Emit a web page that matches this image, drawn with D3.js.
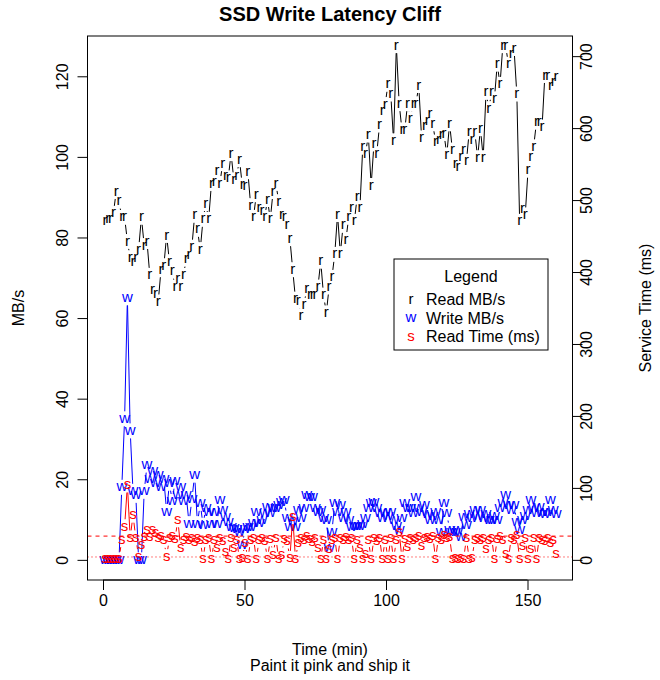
<!DOCTYPE html>
<html>
<head>
<meta charset="utf-8">
<script src="https://cdn.jsdelivr.net/npm/d3@7"></script>
<style>
  body { margin: 0; background: #fff; }
  text { font-family: "Liberation Sans", Arial, Helvetica, sans-serif; }
</style>
</head>
<body>
<script>
// sampling: one reading roughly every minute
const startMin = 0.7;
const stepMin = 0.99;

// Read MB/s (left axis)
const readMBs = [
  84, 84.5, 84.7, 86, 91.4, 89, 85, 85, 79, 75,
  74, 75, 77, 85, 78, 79, 70.6, 67, 66, 64,
  72, 73, 80.5, 74, 71.6, 67.7, 69.7, 67.7, 70.6, 74.6,
  75.6, 77.6, 85.5, 82, 77, 84.5, 88.4, 84.5, 93.4, 93.9,
  96.5, 93.4, 98.3, 95.3, 94.8, 100.8, 94.3, 95.3, 99.3, 93,
  92.9, 96.3, 87.9, 85, 90.6, 87.4, 86.5, 85, 89.4, 84.5,
  91.4, 93.4, 88.9, 85.7, 85, 83, 79.7, 72, 64.7, 64.2,
  60.5, 63.2, 67.2, 65.7, 65.7, 65.7, 67.7, 74.1, 65.7, 61.3,
  67.7, 70.1, 75.8, 85.7, 76, 83, 79.5, 85, 87.4, 84,
  90, 87.4, 102.4, 100.8, 105.4, 92.9, 103.2, 100.8, 107.9, 111.5,
  113, 118, 115.6, 104, 127.6, 113.2, 106.7, 106.7, 113.2, 109.5,
  113.2, 113.2, 117.7, 104.7, 107.8, 109, 110.7, 108.2, 103.7, 104.2,
  105.4, 105.8, 100.5, 108.2, 101.7, 98.3, 97.5, 100, 101.7, 98.9,
  106.2, 104.2, 106.2, 99.8, 107, 99.8, 116, 112, 116, 114.4,
  123, 118, 127.6, 127.6, 123, 125.5, 126.9, 115.6, 84, 87.2,
  85.6, 96.7, 100, 102.5, 108.6, 108.6, 107.4, 120.2, 120.2, 117.7,
  118.5, 119.8
];

// Write MB/s (left axis)
const writeMBs = [
  0, 0, 0, 0, 0, 0, 18, 35, 65, 32,
  17, 16, 0, 0, 17, 23.5, 20, 22, 19, 21,
  18, 20, 12, 19, 14.5, 19.5, 16, 18, 14.5, 16,
  9, 15, 21, 9, 14, 8.6, 13, 12, 9, 12,
  9, 14.8, 12.3, 10.7, 9.4, 8.2, 7.9, 7.7, 6.9, 3.7,
  7.7, 8.2, 8.2, 9.1, 11.9, 9.1, 9.9, 11.6, 13.2, 11.6,
  13, 12.8, 13.6, 14.3, 14.8, 10.4, 8.2, 9.7, 8.2, 12.3,
  10.4, 12.8, 16, 15.6, 15.6, 12.8, 11.9, 12.3, 10.4, 9.9,
  3, 7, 14, 11.9, 13.6, 10.4, 11.9, 9.9, 8.2, 8.5,
  8.5, 8.5, 9, 10.4, 12.8, 14, 14.4, 12.8, 11.6, 10.4,
  11.9, 11, 11.9, 9.9, 8.5, 7.4, 10.4, 14, 13, 12.8,
  11.6, 15.6, 12.8, 12, 13.6, 11.3, 9.9, 11, 11.9, 10,
  7, 14, 11.6, 7.4, 7, 7, 7.5, 5.8, 10.7, 8.6,
  11.3, 10.5, 12.3, 11, 12.3, 10.5, 11.3, 10, 9.9, 11,
  9.9, 12.8, 14, 16, 13.6, 12.5, 13.6, 9.4, 7.4, 9.9,
  11, 12.3, 14.8, 13, 11.6, 13.2, 12, 11.3, 12, 14.8,
  12.3, 11.3
];

// Read service time in ms (right axis)
const readTimeMs = [
  1, 1, 1, 1, 1, 1, 28, 46, 104, 30.5,
  62, 30.5, 4.6, 21, 32, 41.7, 32, 41.7, 37.5, 30,
  33, 27, 4.6, 30, 33, 29, 55.6, 16.7, 28, 32,
  27, 30, 25, 31, 27, 1, 28, 31, 1, 27,
  16.7, 30, 26, 11.6, 1, 31, 16, 28, 1, 2,
  24, 1, 28, 31, 1, 27, 30, 26, 1, 29,
  7, 31, 1, 7, 29, 26, 2, 60, 1, 24,
  31, 27, 33, 29, 25, 30, 16.7, 1, 28, 1,
  15, 27, 31, 1, 30, 27, 32, 28, 30, 1,
  27, 16.7, 1, 8, 28, 1, 30, 26, 31, 1,
  28, 1, 30, 1, 27, 39, 1, 29, 18.5, 31,
  27, 30, 33, 20, 30, 32, 29, 33, 1, 31,
  28, 34, 30, 32, 1, 2, 1, 2, 1, 30,
  1, 2, 28, 31, 27, 30, 15, 28, 31, 1,
  29, 33, 27, 8, 1, 31, 28, 34, 1, 20,
  30, 1, 15, 30, 1, 31, 28, 26, 30, 24,
  27, 8
];

const times = readMBs.map((d, i) => startMin + i * stepMin);

const leftTicks = [0, 20, 40, 60, 80, 100, 120];
const rightTicks = [0, 100, 200, 300, 400, 500, 600, 700];
const timeTicks = [0, 50, 100, 150];

const refDashedMs = 33;
const refDottedMs = 4;

const legendLabels = ["Read MB/s", "Write MB/s", "Read Time (ms)"];
const legendChars = ["r", "w", "s"];
const legendColors = ["black", "blue", "red"];

// layout
const box = { l: 87.5, r: 572.5, t: 36, b: 580 };
const gap = 7.5;      // type="b" line gap around each point
const pchSize = "15px";

const svg = d3.select("body").append("svg")
  .attr("width", 660)
  .attr("height", 680);

const x = d3.scaleLinear().domain([-5.48, 165.9]).range([box.l, box.r]);
const yL = d3.scaleLinear().domain([-5, 130]).range([box.b, box.t]);
const yR = d3.scaleLinear().domain([-28, 728]).range([box.b, box.t]);

svg.append("clipPath").attr("id", "plotclip")
  .append("rect")
  .attr("x", box.l).attr("y", box.t)
  .attr("width", box.r - box.l).attr("height", box.b - box.t);

const plot = svg.append("g").attr("clip-path", "url(#plotclip)");

function drawSeries(vals, y, color, ch) {
  const pts = vals.map((v, i) => [x(times[i]), y(v)]);
  const g = plot.append("g");
  for (let i = 1; i < pts.length; i++) {
    const [x0, y0] = pts[i - 1];
    const [x1, y1] = pts[i];
    const dx = x1 - x0, dy = y1 - y0;
    const len = Math.hypot(dx, dy);
    if (len <= 2 * gap) continue;
    const ux = dx / len, uy = dy / len;
    g.append("line")
      .attr("x1", x0 + ux * gap).attr("y1", y0 + uy * gap)
      .attr("x2", x1 - ux * gap).attr("y2", y1 - uy * gap)
      .attr("stroke", color)
      .attr("stroke-width", 1);
  }
  g.selectAll("text")
    .data(pts)
    .join("text")
    .attr("x", d => d[0])
    .attr("y", d => d[1])
    .attr("dy", "0.27em")
    .attr("text-anchor", "middle")
    .attr("font-size", pchSize)
    .attr("fill", color)
    .text(ch);
}

drawSeries(readMBs, yL, "black", "r");
drawSeries(writeMBs, yL, "blue", "w");
drawSeries(readTimeMs, yR, "red", "s");

// reference lines on the service-time scale
plot.append("line")
  .attr("x1", box.l).attr("x2", box.r)
  .attr("y1", yR(refDashedMs)).attr("y2", yR(refDashedMs))
  .attr("stroke", "red").attr("stroke-dasharray", "4,4");
plot.append("line")
  .attr("x1", box.l).attr("x2", box.r)
  .attr("y1", yR(refDottedMs)).attr("y2", yR(refDottedMs))
  .attr("stroke", "red").attr("stroke-dasharray", "1,3");

// box
svg.append("rect")
  .attr("x", box.l).attr("y", box.t)
  .attr("width", box.r - box.l).attr("height", box.b - box.t)
  .attr("fill", "none").attr("stroke", "black");

// bottom axis
const xAxis = svg.append("g")
  .attr("transform", `translate(0,${box.b})`)
  .call(d3.axisBottom(x).tickValues(timeTicks).tickSize(10).tickSizeOuter(0));
xAxis.select(".domain").remove();
xAxis.append("line")
  .attr("x1", x(timeTicks[0])).attr("x2", x(timeTicks[timeTicks.length - 1]))
  .attr("stroke", "black");
xAxis.selectAll(".tick text")
  .attr("y", 26).attr("dy", 0)
  .attr("font-size", "16px").attr("fill", "black")
  .attr("font-family", "Liberation Sans, Arial, sans-serif");

// left axis
const yAxisL = svg.append("g")
  .attr("transform", `translate(${box.l},0)`)
  .call(d3.axisLeft(yL).tickValues(leftTicks).tickSize(10).tickSizeOuter(0));
yAxisL.select(".domain").remove();
yAxisL.append("line")
  .attr("y1", yL(leftTicks[0])).attr("y2", yL(leftTicks[leftTicks.length - 1]))
  .attr("stroke", "black");
yAxisL.selectAll(".tick text")
  .attr("x", null).attr("dy", null)
  .attr("transform", "translate(-19.5,0) rotate(-90)")
  .attr("text-anchor", "middle")
  .attr("font-size", "16px").attr("fill", "black")
  .attr("font-family", "Liberation Sans, Arial, sans-serif");

// right axis
const yAxisR = svg.append("g")
  .attr("transform", `translate(${box.r},0)`)
  .call(d3.axisRight(yR).tickValues(rightTicks).tickSize(10).tickSizeOuter(0));
yAxisR.select(".domain").remove();
yAxisR.append("line")
  .attr("y1", yR(rightTicks[0])).attr("y2", yR(rightTicks[rightTicks.length - 1]))
  .attr("stroke", "black");
yAxisR.selectAll(".tick text")
  .attr("x", null).attr("dy", null)
  .attr("transform", "translate(19,0) rotate(-90)")
  .attr("text-anchor", "middle")
  .attr("font-size", "16px").attr("fill", "black")
  .attr("font-family", "Liberation Sans, Arial, sans-serif");

// titles
svg.append("text")
  .attr("x", (box.l + box.r) / 2).attr("y", 21)
  .attr("text-anchor", "middle")
  .attr("font-size", "20px").attr("font-weight", "bold")
  .text("SSD Write Latency Cliff");

svg.append("text")
  .attr("x", (box.l + box.r) / 2).attr("y", 655)
  .attr("text-anchor", "middle")
  .attr("font-size", "16px")
  .text("Time (min)");

svg.append("text")
  .attr("x", (box.l + box.r) / 2).attr("y", 671)
  .attr("text-anchor", "middle")
  .attr("font-size", "16px")
  .text("Paint it pink and ship it");

svg.append("text")
  .attr("transform", `translate(24,${(box.t + box.b) / 2}) rotate(-90)`)
  .attr("text-anchor", "middle")
  .attr("font-size", "16px")
  .text("MB/s");

svg.append("text")
  .attr("transform", `translate(651,${(box.t + box.b) / 2}) rotate(-90)`)
  .attr("text-anchor", "middle")
  .attr("font-size", "16px")
  .text("Service Time (ms)");

// legend
const lg = svg.append("g");
lg.append("rect")
  .attr("x", 394).attr("y", 259)
  .attr("width", 154).attr("height", 91)
  .attr("fill", "white").attr("stroke", "black");
lg.append("text")
  .attr("x", 471).attr("y", 281.5)
  .attr("text-anchor", "middle")
  .attr("font-size", "16px")
  .text("Legend");
legendLabels.forEach((lab, i) => {
  const cy = 299.5 + i * 18.5;
  lg.append("text")
    .attr("x", 411).attr("y", cy).attr("dy", "0.27em")
    .attr("text-anchor", "middle")
    .attr("font-size", pchSize)
    .attr("fill", legendColors[i])
    .text(legendChars[i]);
  lg.append("text")
    .attr("x", 426).attr("y", cy + 5.5)
    .attr("font-size", "16px")
    .text(lab);
});
</script>
</body>
</html>
